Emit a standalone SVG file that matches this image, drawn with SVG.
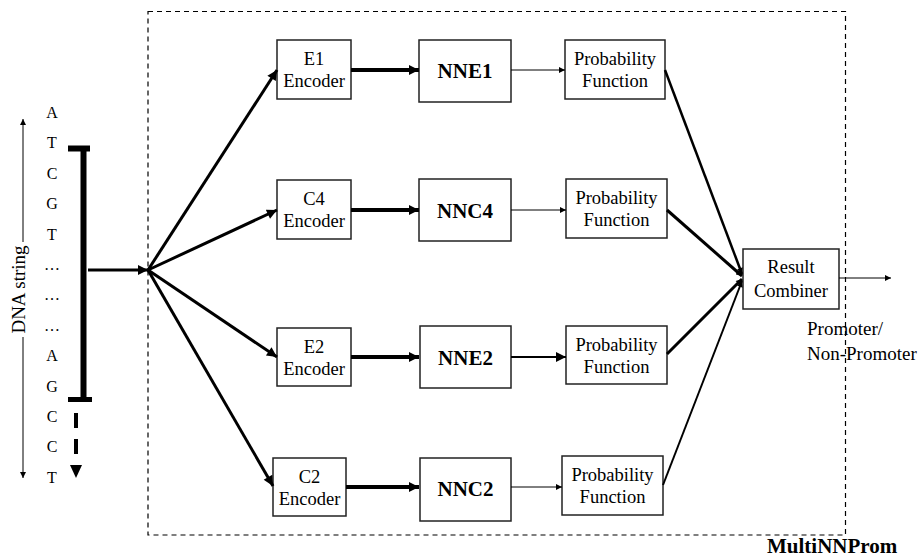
<svg xmlns="http://www.w3.org/2000/svg" width="919" height="557" viewBox="0 0 919 557" font-family="'Liberation Serif', 'Times New Roman', serif">
<defs>
<style>
text{font-family:'Liberation Serif','Times New Roman',serif;fill:#000}
.box{fill:#fff;stroke:#222;stroke-width:1.5}
.t{font-size:18.5px;text-anchor:middle}
.nn{font-size:21px;font-weight:bold;text-anchor:middle}
.dna{font-size:16px;text-anchor:middle}
.lbl{font-size:19px}
.c{fill:none;stroke:#000}
</style>
<marker id="ah" viewBox="0 0 10 10" refX="10" refY="5" markerWidth="12" markerHeight="10" markerUnits="userSpaceOnUse" orient="auto"><path d="M0,0 L10,5 L0,10 z" fill="#000"/></marker>
<marker id="as" viewBox="0 0 10 10" refX="10" refY="5" markerWidth="7" markerHeight="6" markerUnits="userSpaceOnUse" orient="auto"><path d="M0,0 L10,5 L0,10 z" fill="#000"/></marker>
</defs>
<rect width="919" height="557" fill="#fff"/>
<rect x="148" y="11.5" width="697.5" height="523.5" fill="none" stroke="#000" stroke-width="1.2" stroke-dasharray="5,4"/>

<g id="dna-input">
<text class="dna" x="52" y="118">A</text>
<text class="dna" x="52" y="148.4">T</text>
<text class="dna" x="52" y="178.8">C</text>
<text class="dna" x="52" y="209.2">G</text>
<text class="dna" x="52" y="239.6">T</text>
<text class="dna" x="52" y="270">…</text>
<text class="dna" x="52" y="300.4">…</text>
<text class="dna" x="52" y="330.8">…</text>
<text class="dna" x="52" y="361.2">A</text>
<text class="dna" x="52" y="391.6">G</text>
<text class="dna" x="52" y="422">C</text>
<text class="dna" x="52" y="452.4">C</text>
<text class="dna" x="52" y="482.8">T</text>
<text class="lbl" transform="translate(25,289.5) rotate(-90)" text-anchor="middle">DNA string</text>
<line x1="23" y1="242" x2="23" y2="119" stroke="#000" stroke-width="1" marker-end="url(#as)"/>
<line x1="23" y1="337" x2="23" y2="478" stroke="#000" stroke-width="1" marker-end="url(#as)"/>
<line x1="83.5" y1="148" x2="83.5" y2="399" stroke="#000" stroke-width="6"/>
<line x1="68" y1="148.5" x2="90" y2="148.5" stroke="#000" stroke-width="6"/>
<line x1="68" y1="399.5" x2="92" y2="399.5" stroke="#000" stroke-width="5"/>
<line x1="76" y1="413" x2="76" y2="465" stroke="#000" stroke-width="4" stroke-dasharray="15,11"/>
<path d="M70,465 L82,465 L76,478 z" fill="#000"/>
</g>

<g id="e1-encoder"><rect class="box" x="277" y="40" width="74" height="59"/><text class="t" x="314" y="65">E1</text><text class="t" x="314" y="87">Encoder</text></g>
<g id="c4-encoder"><rect class="box" x="277" y="180" width="74" height="59"/><text class="t" x="314" y="205">C4</text><text class="t" x="314" y="227">Encoder</text></g>
<g id="e2-encoder"><rect class="box" x="277" y="328" width="74" height="58"/><text class="t" x="314" y="353">E2</text><text class="t" x="314" y="375">Encoder</text></g>
<g id="c2-encoder"><rect class="box" x="273" y="458" width="73" height="58"/><text class="t" x="309.5" y="483">C2</text><text class="t" x="309.5" y="505">Encoder</text></g>

<g id="nne1"><rect class="box" x="419" y="40" width="92" height="62"/><text class="nn" x="465" y="78">NNE1</text></g>
<g id="nnc4"><rect class="box" x="419" y="179" width="92" height="62"/><text class="nn" x="465" y="218">NNC4</text></g>
<g id="nne2"><rect class="box" x="420" y="326" width="91" height="62"/><text class="nn" x="465.5" y="365">NNE2</text></g>
<g id="nnc2"><rect class="box" x="420" y="458" width="91" height="63"/><text class="nn" x="465.5" y="496">NNC2</text></g>

<g id="pf1"><rect class="box" x="565" y="40" width="100" height="59"/><text class="t" x="615" y="65">Probability</text><text class="t" x="615" y="87">Function</text></g>
<g id="pf2"><rect class="box" x="566" y="179" width="101" height="59"/><text class="t" x="616.5" y="204">Probability</text><text class="t" x="616.5" y="226">Function</text></g>
<g id="pf3"><rect class="box" x="566" y="326" width="101" height="58"/><text class="t" x="616.5" y="351">Probability</text><text class="t" x="616.5" y="373">Function</text></g>
<g id="pf4"><rect class="box" x="562" y="456" width="101" height="59"/><text class="t" x="612.5" y="481">Probability</text><text class="t" x="612.5" y="503">Function</text></g>

<g id="result-combiner"><rect class="box" x="743" y="249" width="96" height="60"/><text class="t" x="791" y="273">Result</text><text class="t" x="791" y="297">Combiner</text></g>

<g id="connectors">
<line class="c" x1="88" y1="270" x2="148" y2="270" stroke-width="3" marker-end="url(#ah)"/>
<line class="c" x1="148" y1="270" x2="277" y2="70" stroke-width="3" marker-end="url(#ah)"/>
<line class="c" x1="148" y1="270" x2="277" y2="210" stroke-width="3" marker-end="url(#ah)"/>
<line class="c" x1="148" y1="270" x2="277" y2="357" stroke-width="3" marker-end="url(#ah)"/>
<line class="c" x1="148" y1="270" x2="273" y2="486" stroke-width="3" marker-end="url(#ah)"/>
<line class="c" x1="351" y1="70" x2="419" y2="70" stroke-width="4" marker-end="url(#ah)"/>
<line class="c" x1="351" y1="210" x2="419" y2="210" stroke-width="4" marker-end="url(#ah)"/>
<line class="c" x1="351" y1="357" x2="419" y2="357" stroke-width="4" marker-end="url(#ah)"/>
<line class="c" x1="346" y1="487" x2="419" y2="487" stroke-width="4" marker-end="url(#ah)"/>
<line class="c" x1="511" y1="70" x2="565" y2="70" stroke-width="1" marker-end="url(#as)"/>
<line class="c" x1="511" y1="210" x2="566" y2="210" stroke-width="1" marker-end="url(#as)"/>
<line class="c" x1="511" y1="357" x2="566" y2="357" stroke-width="2.2" marker-end="url(#ah)"/>
<line class="c" x1="511" y1="487" x2="562" y2="487" stroke-width="1" marker-end="url(#as)"/>
<line class="c" x1="665" y1="70" x2="742" y2="274" stroke-width="2.5" marker-end="url(#as)"/>
<line class="c" x1="667" y1="210" x2="742" y2="276" stroke-width="3" marker-end="url(#as)"/>
<line class="c" x1="667" y1="354" x2="742" y2="279" stroke-width="3" marker-end="url(#as)"/>
<line class="c" x1="663" y1="485" x2="742" y2="281" stroke-width="2" marker-end="url(#as)"/>
<line class="c" x1="839" y1="278" x2="891" y2="278" stroke-width="1" marker-end="url(#as)"/>
</g>

<text class="lbl" x="807" y="335">Promoter/</text>
<text class="lbl" x="807" y="360">Non-Promoter</text>
<text x="767" y="553" font-size="21" font-weight="bold">MultiNNProm</text>
</svg>
